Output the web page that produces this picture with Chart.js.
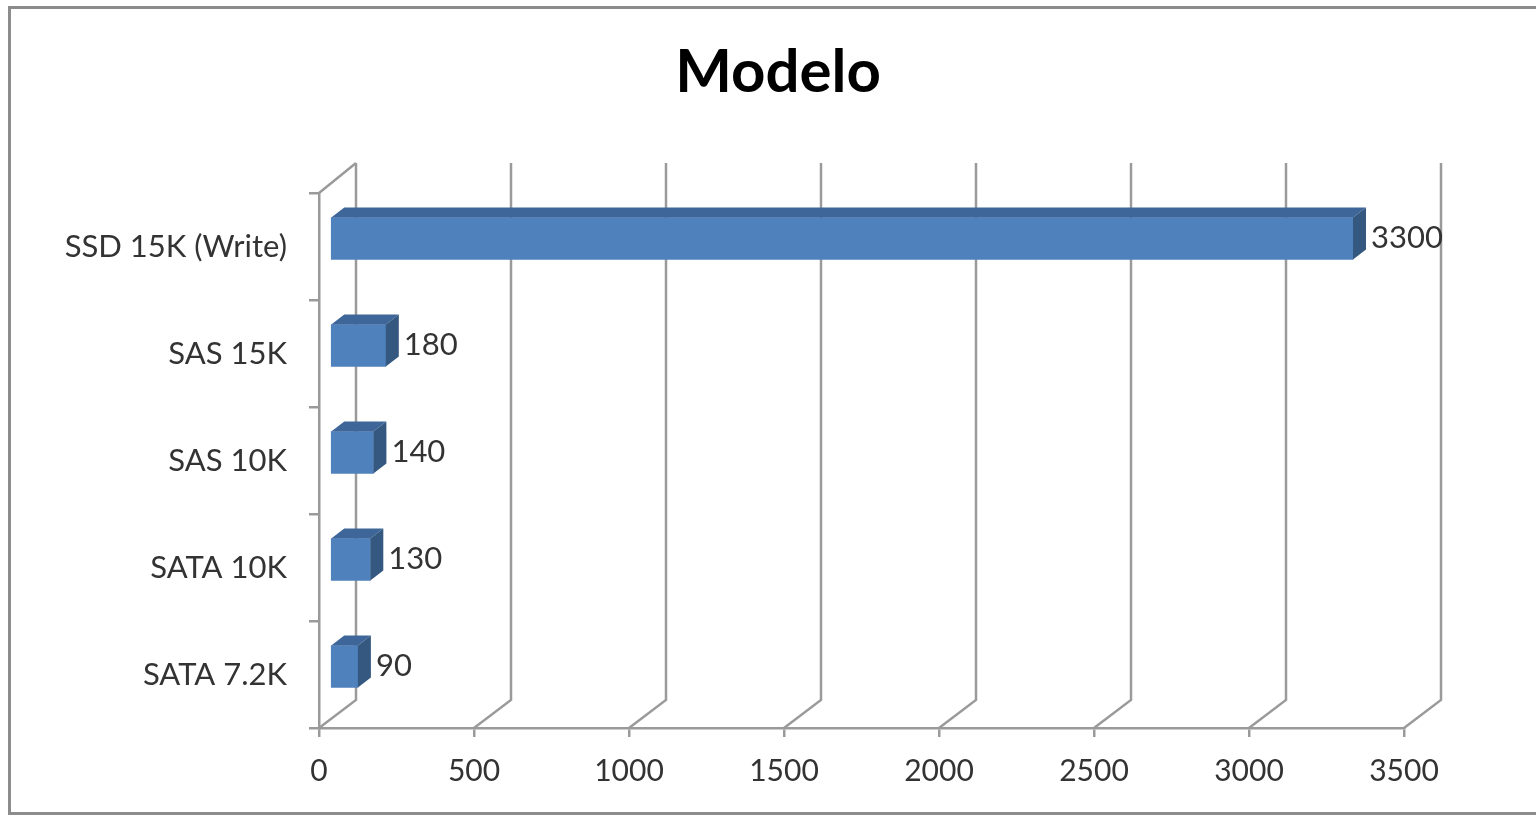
<!DOCTYPE html>
<html>
<head>
<meta charset="utf-8">
<title>Modelo</title>
<script src="https://cdn.jsdelivr.net/npm/chart.js@4/dist/chart.umd.min.js"></script>
<style>
  html, body { margin: 0; padding: 0; background: #fff; overflow: hidden; }
  #wrap { position: relative; width: 1536px; height: 820px; }
  #frame {
    position: absolute; left: 8px; top: 6px; width: 1540px; height: 809px;
    border: 3px solid #8c8c8c; box-sizing: border-box; pointer-events: none;
  }
  canvas { position: absolute; left: 0; top: 0; }
</style>
</head>
<body>
<div id="wrap">
  <canvas id="chart" width="1536" height="820"></canvas>
  <div id="frame"></div>
</div>
<script>
  // ---- data -------------------------------------------------------------
  const TITLE = "Modelo";
  const CATEGORIES = ["SSD 15K (Write)", "SAS 15K", "SAS 10K", "SATA 10K", "SATA 7.2K"];
  const VALUES = [3300, 180, 140, 130, 90];
  const X_MAX = 3500;
  const X_STEP = 500;

  // ---- 3d look ----------------------------------------------------------
  const WALL = { dx: 37, dy: -28 };     // offset of the back wall
  const BAR_SHIFT = { dx: 11, dy: -8 }; // bars sit a little into the depth
  const BAR_DEPTH = { dx: 13, dy: -10 };
  const GRID_COLOR = "#9a9a9a";
  const TEXT = "#333333";
  const FRONT = "#4f81bd", TOP = "#3e6699", SIDE = "#34587f";
  const FONT = "Lato, 'Open Sans', sans-serif";

  const walls = {
    id: "walls",
    beforeDatasetsDraw(chart) {
      const { ctx, chartArea: a, scales } = chart;
      const x = scales.x;
      ctx.save();
      ctx.strokeStyle = GRID_COLOR;
      ctx.lineWidth = 2.5;
      const topBack = a.top + WALL.dy - 2;
      for (let v = 0; v <= X_MAX; v += X_STEP) {
        const px = x.getPixelForValue(v);
        ctx.beginPath();
        ctx.moveTo(px, a.bottom);
        ctx.lineTo(px + WALL.dx, a.bottom + WALL.dy);
        ctx.lineTo(px + WALL.dx, topBack);
        ctx.stroke();
      }
      // left wall top edge
      ctx.beginPath();
      ctx.moveTo(a.left, a.top);
      ctx.lineTo(a.left + WALL.dx, topBack);
      ctx.stroke();
      ctx.restore();
    },
    beforeDatasetDraw(chart) {
      chart.ctx.save();
      chart.ctx.translate(BAR_SHIFT.dx, BAR_SHIFT.dy);
    },
    afterDatasetDraw(chart, args) {
      const ctx = chart.ctx;
      args.meta.data.forEach((bar, i) => {
        const p = bar.getProps(["x", "y", "base", "height"], true);
        const top = p.y - p.height / 2, bot = p.y + p.height / 2;
        const l = p.base, r = p.x;
        ctx.fillStyle = TOP;
        ctx.beginPath();
        ctx.moveTo(l, top);
        ctx.lineTo(l + BAR_DEPTH.dx, top + BAR_DEPTH.dy);
        ctx.lineTo(r + BAR_DEPTH.dx, top + BAR_DEPTH.dy);
        ctx.lineTo(r, top);
        ctx.closePath();
        ctx.fill();
        ctx.fillStyle = SIDE;
        ctx.beginPath();
        ctx.moveTo(r, top);
        ctx.lineTo(r + BAR_DEPTH.dx, top + BAR_DEPTH.dy);
        ctx.lineTo(r + BAR_DEPTH.dx, bot + BAR_DEPTH.dy);
        ctx.lineTo(r, bot);
        ctx.closePath();
        ctx.fill();
        // value label
        ctx.fillStyle = TEXT;
        ctx.font = "31px " + FONT;
        ctx.textAlign = "left";
        ctx.textBaseline = "middle";
        ctx.fillText(String(VALUES[i]), r + BAR_DEPTH.dx + 5, p.y - 1);
      });
      ctx.restore();
    },
    afterDraw(chart) {
      // title sits over the whole plot incl. the category labels
      const ctx = chart.ctx;
      ctx.save();
      ctx.fillStyle = "#000";
      ctx.font = "bold 60px " + FONT;
      ctx.textAlign = "center";
      ctx.textBaseline = "middle";
      ctx.fillText(TITLE, 778, 73);
      ctx.restore();
    },
  };

  new Chart(document.getElementById("chart"), {
    type: "bar",
    data: {
      labels: CATEGORIES,
      datasets: [{ data: VALUES, backgroundColor: FRONT, borderWidth: 0, barThickness: 42, clip: false }],
    },
    options: {
      indexAxis: "y",
      responsive: false,
      animation: false,
      layout: { padding: { left: 0, right: 132, top: 193, bottom: 0 } },
      plugins: {
        legend: { display: false },
        tooltip: { enabled: false },
        title: { display: false },
      },
      scales: {
        x: {
          min: 0,
          max: X_MAX,
          ticks: {
            stepSize: X_STEP,
            color: TEXT,
            font: { family: FONT, size: 30 },
            padding: 16,
            maxRotation: 0,
            callback: (v) => String(v),
          },
          grid: { drawOnChartArea: false, drawTicks: true, tickLength: 9, color: GRID_COLOR, lineWidth: 2.5 },
          border: { display: true, color: GRID_COLOR, width: 2.5 },
          afterFit(s) { s.height = 92; },
        },
        y: {
          ticks: { color: TEXT, font: { family: FONT, size: 31 }, padding: 22 },
          grid: { offset: true, drawOnChartArea: false, drawTicks: true, tickLength: 10, color: GRID_COLOR, lineWidth: 2.5 },
          border: { display: true, color: GRID_COLOR, width: 2.5 },
          afterFit(s) { s.width = 319; },
        },
      },
    },
    plugins: [walls],
  });
</script>
</body>
</html>
